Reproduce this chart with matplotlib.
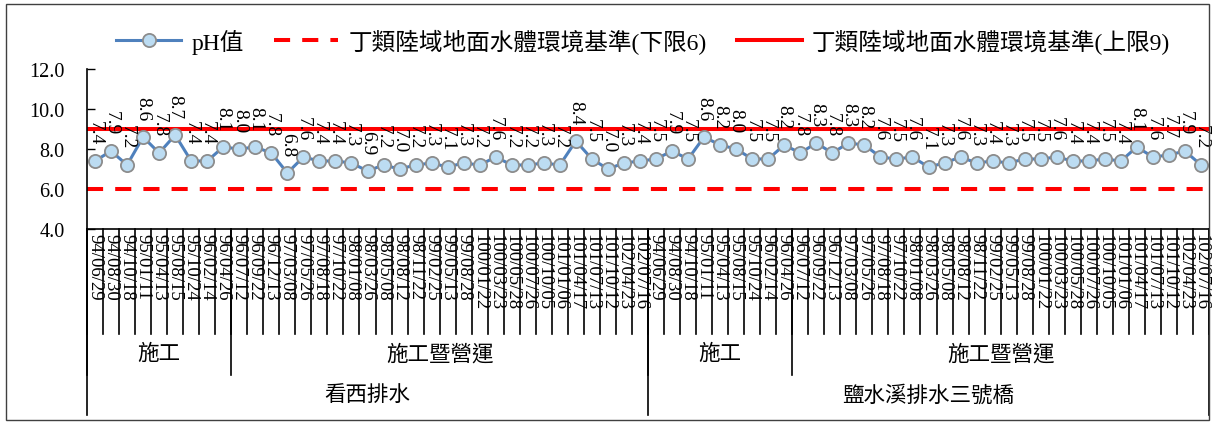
import numpy as np
import matplotlib
matplotlib.use("Agg")
import matplotlib.pyplot as plt
from matplotlib.patches import Rectangle
from matplotlib.lines import Line2D

# serif for latin text, CJK fallback
plt.rcParams['font.family'] = ['Liberation Serif', 'Noto Sans CJK TC']

# sampling dates (same schedule at both stations)
dates = ['94/06/29', '94/08/30', '94/10/18', '95/01/11', '95/04/13', '95/08/15',
         '95/10/24', '96/02/14', '96/04/26',
         '96/07/12', '96/09/22', '96/12/13', '97/03/08', '97/05/26', '97/08/18',
         '97/10/22', '98/01/08', '98/03/26', '98/05/08', '98/08/12', '98/11/22',
         '99/02/25', '99/05/13', '99/08/28', '100/01/22', '100/03/23', '100/05/28',
         '100/07/26', '100/10/05', '101/01/06', '101/04/17', '101/07/13',
         '101/10/12', '102/04/23', '102/07/16']
phase_names = ['施工', '施工暨營運']
phase_counts = [9, 26]
stations = ['看西排水', '鹽水溪排水三號橋']

ph_kanxi = [7.4, 7.9, 7.2, 8.6, 7.8, 8.7, 7.4, 7.4, 8.1, 8.0, 8.1, 7.8, 6.8, 7.6,
            7.4, 7.4, 7.3, 6.9, 7.2, 7.0, 7.2, 7.3, 7.1, 7.3, 7.2, 7.6, 7.2, 7.2,
            7.3, 7.2, 8.4, 7.5, 7.0, 7.3, 7.4]
ph_yanshui = [7.5, 7.9, 7.5, 8.6, 8.2, 8.0, 7.5, 7.5, 8.2, 7.8, 8.3, 7.8, 8.3, 8.2,
              7.6, 7.5, 7.6, 7.1, 7.3, 7.6, 7.3, 7.4, 7.3, 7.5, 7.5, 7.6, 7.4, 7.4,
              7.5, 7.4, 8.1, 7.6, 7.7, 7.9, 7.2]
lower_limit = 6
upper_limit = 9

ph = ph_kanxi + ph_yanshui
labels = dates * len(stations)
x = np.arange(len(ph))

W, H = 1216, 427
fig = plt.figure(figsize=(W / 100, H / 100), dpi=100)
ax = fig.add_axes([87 / W, 1 - 230 / H, (1209 - 87) / W, 160 / H])

ax.axhline(lower_limit, color='#ff0000', lw=2.9, dashes=(4, 3), zorder=2)
ax.axhline(upper_limit, color='#ff0000', lw=2.9, zorder=2)
ax.plot(x, ph, color='#4f81bd', lw=2.2, marker='o', markersize=9.5,
        markerfacecolor='#bcdcf2', markeredgecolor='#8c8c8c', markeredgewidth=1.3,
        zorder=3)

for xi, v in zip(x, ph):
    ax.annotate('%.1f' % v, (xi, v), xytext=(0, 12), textcoords='offset points',
                ha='center', va='bottom', rotation=270, fontsize=14, zorder=4)

ax.set_xlim(-0.5, len(ph) - 0.5)
ax.set_ylim(4, 12)
ax.set_yticks(np.arange(4, 12.1, 2))
ax.set_yticklabels(['%.1f' % t for t in np.arange(4, 12.1, 2)], fontsize=14.5)
ax.tick_params(axis='y', direction='in', length=6, width=1, pad=16)
ax.set_xticks(x)
ax.set_xticklabels(labels, rotation=270, fontsize=13.5)
ax.tick_params(axis='x', length=0, pad=3)
for lab in ax.get_xticklabels():
    lab.set_ha('center')
    lab.set_va('top')

for s in ['top', 'right']:
    ax.spines[s].set_visible(False)
ax.spines['left'].set_linewidth(1.2)
ax.spines['bottom'].set_linewidth(1.2)

# multi-level category axis
tr = ax.get_xaxis_transform()
ax_h = 160.0
def fy(py):
    return -(py - 230) / ax_h

for b in np.arange(len(ph) + 1) - 0.5:
    ax.plot([b, b], [0, fy(335)], color='black', lw=1.2, transform=tr, clip_on=False)

start = 0
for si, st in enumerate(stations):
    ax.plot([start - 0.5, start - 0.5], [0, fy(416)], color='black', lw=1.2,
            transform=tr, clip_on=False)
    p0 = start
    for name, n in zip(phase_names, phase_counts):
        ax.plot([p0 - 0.5, p0 - 0.5], [0, fy(376)], color='black', lw=1.2,
                transform=tr, clip_on=False)
        ax.text(p0 + (n - 1) / 2, fy(355), name, transform=tr, ha='center',
                va='center', fontsize=15.5)
        p0 += n
    n_st = sum(phase_counts)
    ax.text(start + (n_st - 1) / 2, fy(396), st, transform=tr, ha='center',
            va='center', fontsize=15.5)
    start += n_st
ax.plot([start - 0.5, start - 0.5], [0, fy(416)], color='black', lw=1.2,
        transform=tr, clip_on=False)

handles = [
    Line2D([], [], color='#4f81bd', lw=2.2, marker='o', markersize=9.5,
           markerfacecolor='#bcdcf2', markeredgecolor='#8c8c8c', markeredgewidth=1.3),
    Line2D([], [], color='#ff0000', lw=2.9, dashes=(4, 3)),
    Line2D([], [], color='#ff0000', lw=2.9),
]
fig.legend(handles, ['pH值', '丁類陸域地面水體環境基準(下限6)', '丁類陸域地面水體環境基準(上限9)'],
           loc='center', bbox_to_anchor=(643 / W, 1 - 42 / H), ncol=3, frameon=False,
           fontsize=17, handlelength=2.75, handletextpad=0.42, columnspacing=1.27)

fig.add_artist(Rectangle((6 / W, 1 - 421 / H), (1209 - 6) / W, (421 - 5) / H,
                         transform=fig.transFigure, fill=False, edgecolor='#404040',
                         lw=1))

fig.savefig('out.png', dpi=100)
